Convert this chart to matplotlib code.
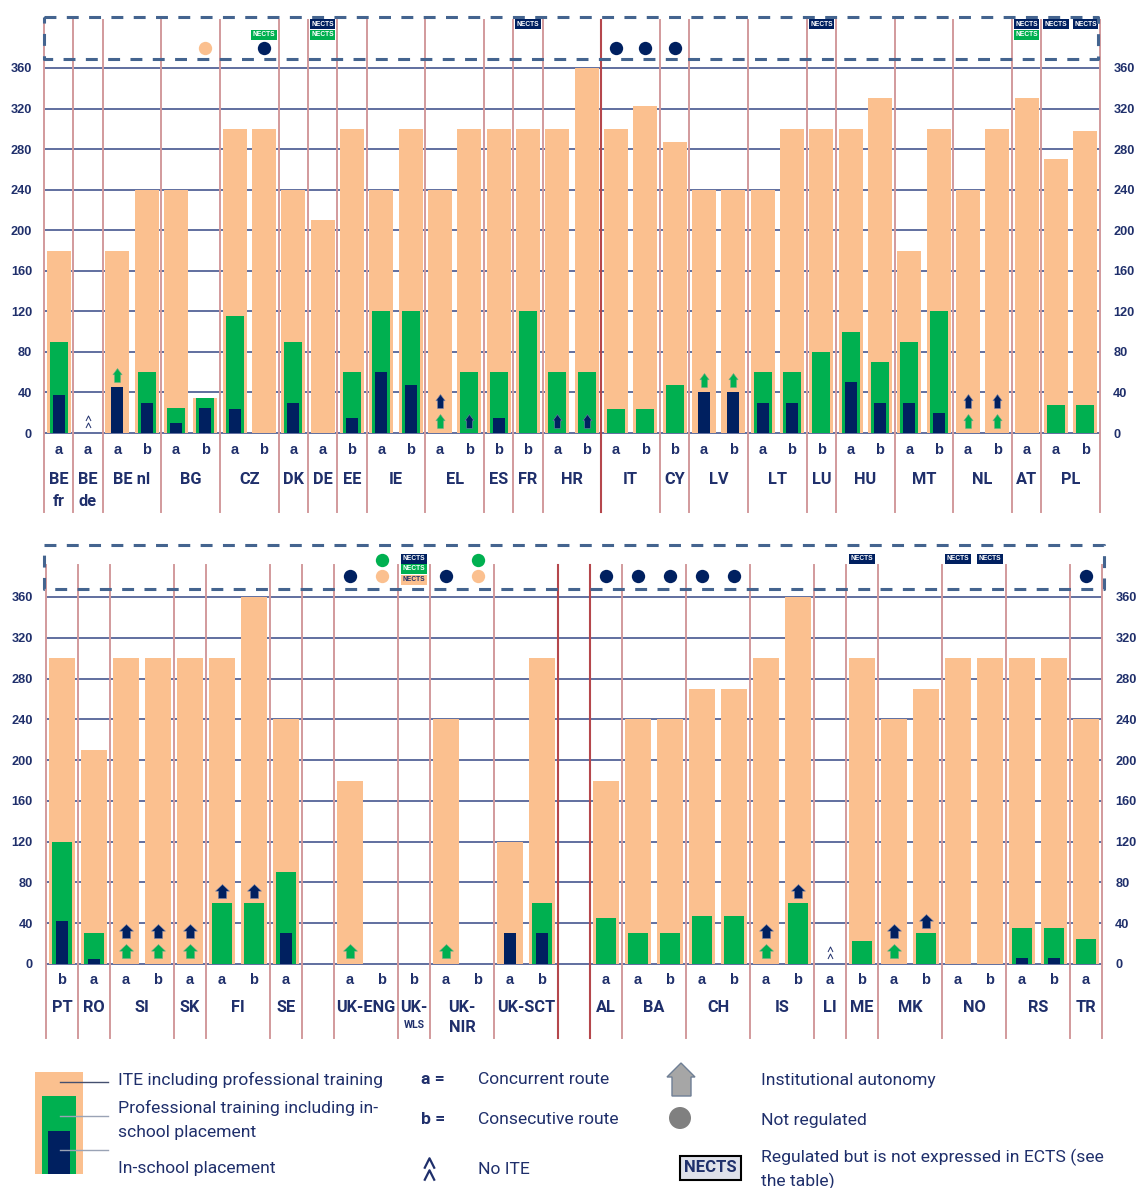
import matplotlib
matplotlib.use('Agg')
import matplotlib.pyplot as plt
from matplotlib.path import Path
from matplotlib.patches import Rectangle, Polygon, Ellipse

W, H = 1137, 1188
plt.rcParams['font.family'] = ['Roboto', 'Liberation Sans', 'DejaVu Sans']

ORANGE = '#fbc08f'; GREEN = '#00b050'; NAVY = '#002060'
TEXT = '#1f2f6b'; GRID = '#46568f'; SEP = '#d29a9c'; SEP_DARK = '#b5474c'; DASH = '#44648f'

# ---------- top panel data ----------
top_groups = [('BE\nfr', 1), ('BE\nde', 1), ('BE nl', 2), ('BG', 2), ('CZ', 2), ('DK', 1), ('DE', 1), ('EE', 1),
              ('IE', 2), ('EL', 2), ('ES', 1), ('FR', 1), ('HR', 2), ('IT', 2), ('CY', 1), ('LV', 2), ('LT', 2),
              ('LU', 1), ('HU', 2), ('MT', 2), ('NL', 2), ('AT', 1), ('PL', 2)]
top_routes = ['a', 'a', 'a', 'b', 'a', 'b', 'a', 'b', 'a', 'a', 'b', 'a', 'b', 'a', 'b', 'b', 'b', 'a',
              'b', 'a', 'b', 'b', 'a', 'b', 'a', 'b', 'b', 'a', 'b', 'a', 'b', 'a', 'b', 'a', 'a', 'b']
top_total = [180, 0, 180, 240, 240, 35, 300, 300, 240, 210, 300, 240, 300, 240, 300, 300, 300, 300,
             360, 300, 323, 287, 240, 240, 240, 300, 300, 300, 330, 180, 300, 240, 300, 330, 270, 298]
top_green = [90, 0, 0, 60, 25, 35, 115, 0, 90, 0, 60, 120, 120, 0, 60, 60, 120, 60,
             60, 24, 24, 47, 0, 0, 60, 60, 80, 100, 70, 90, 120, 0, 0, 0, 28, 28]
top_navy = [37, 0, 45, 30, 10, 25, 24, 0, 30, 0, 15, 60, 47, 0, 0, 15, 0, 0,
            0, 0, 0, 0, 40, 40, 30, 30, 0, 50, 30, 30, 20, 0, 0, 0, 0, 0]
top_arrow_navy = [0, 0, 0, 0, 0, 0, 0, 0, 0, 0, 0, 0, 0, 32, 12, 0, 0, 12,
                  12, 0, 0, 0, 0, 0, 0, 0, 0, 0, 0, 0, 0, 32, 32, 0, 0, 0]
top_arrow_green = [0, 0, 57, 0, 0, 0, 0, 0, 0, 0, 0, 0, 0, 12, 0, 0, 0, 0,
                   0, 0, 0, 0, 52, 52, 0, 0, 0, 0, 0, 0, 0, 12, 12, 0, 0, 0]
top_no_ite = [1]
top_strip = ['', '', '', '', '', 'o', '', 'Gn', '', 'NG', '', '', '', '', '', '', 'N', '',
             '', 'n', 'n', 'n', '', '', '', '', 'N', '', '', '', '', '', '', 'NG', 'N', 'N']

# ---------- bottom panel data ----------
bot_groups = [('PT', 1), ('RO', 1), ('SI', 2), ('SK', 1), ('FI', 2), ('SE', 1), ('', 1), ('UK-ENG', 2),
              ('UK-\nWLS', 1), ('UK-\nNIR', 2), ('UK-SCT', 2), ('', 1), ('AL', 1), ('BA', 2), ('CH', 2),
              ('IS', 2), ('LI', 1), ('ME', 1), ('MK', 2), ('NO', 2), ('RS', 2), ('TR', 1)]
bot_routes = ['b', 'a', 'a', 'b', 'a', 'a', 'b', 'a', '', 'a', 'b', 'b', 'a', 'b', 'a', 'b', '',
              'a', 'a', 'b', 'a', 'b', 'a', 'b', 'a', 'b', 'a', 'b', 'a', 'b', 'a', 'b', 'a']
bot_total = [300, 210, 300, 300, 300, 300, 360, 240, 0, 180, 0, 0, 240, 0, 120, 300, 0,
             180, 240, 240, 270, 270, 300, 360, 0, 300, 240, 270, 300, 300, 300, 300, 240]
bot_green = [120, 30, 0, 0, 0, 60, 60, 90, 0, 0, 0, 0, 0, 0, 0, 60, 0,
             45, 30, 30, 47, 47, 0, 60, 0, 23, 0, 30, 0, 0, 35, 35, 25]
bot_navy = [42, 5, 0, 0, 0, 0, 0, 30, 0, 0, 0, 0, 0, 0, 30, 30, 0,
            0, 0, 0, 0, 0, 0, 0, 0, 0, 0, 0, 0, 0, 6, 6, 0]
bot_arrow_navy = [0, 0, 32, 32, 32, 72, 72, 0, 0, 0, 0, 0, 0, 0, 0, 0, 0,
                  0, 0, 0, 0, 0, 32, 72, 0, 0, 32, 42, 0, 0, 0, 0, 0]
bot_arrow_green = [0, 0, 13, 13, 13, 0, 0, 0, 0, 13, 0, 0, 13, 0, 0, 0, 0,
                   0, 0, 0, 0, 0, 13, 0, 0, 0, 13, 0, 0, 0, 0, 0, 0]
bot_no_ite = [24]
bot_strip = ['', '', '', '', '', '', '', '', '', 'n', 'go', 'NGO', 'n', 'go', '', '', '',
             'n', 'n', 'n', 'n', 'n', '', '', '', 'N', '', '', 'N', 'N', '', '', 'n']

fig = plt.figure(figsize=(W / 100, H / 100), dpi=100)

HOUSE = Path([(-0.58, -1), (0.58, -1), (0.58, 0.05), (1, 0.05), (0, 1), (-1, 0.05), (-0.58, 0.05), (-0.58, -1)], closed=True)
HOUSE_N = Path([(-0.42, -1), (0.42, -1), (0.42, 0.1), (0.66, 0.1), (0, 1), (-0.66, 0.1), (-0.42, 0.1), (-0.42, -1)], closed=True)
CHEV = Path([(-1, -1), (0, 1), (1, -1)])
NAME_FS = 11.8
SUB = dict(fontfamily='Liberation Sans', fontweight='bold', fontsize=9.2, color=TEXT)


def panel(L, R, T, B, y0, y360, groups, routes, total, green, navy, a_navy, a_green, no_ite, strip, strip_y,
          route_y, name_y, name2_y, sep_top, sep_bot, dark, house, house_size, padl, padr):
    ax = fig.add_axes([L / W, 1 - B / H, (R - L) / W, (B - T) / H])
    k = (y0 - y360) / 360
    py = lambda p: (y0 - p) / k
    n = len(total)
    ax.set_xlim(0, n)
    ax.set_ylim(py(B), py(T))
    for s in ax.spines.values():
        s.set_visible(False)
    ax.set_facecolor('none')
    ticks = list(range(0, 361, 40))
    ax.set_yticks(ticks)
    ax.set_xticks([])
    ax.tick_params(axis='y', length=0, labelleft=True, labelright=False, pad=padl)
    for t in ax.get_yticklabels():
        t.set(**SUB)
    for v in ticks:
        ax.plot([0, n], [v, v], color=GRID, lw=1.2, zorder=1, solid_capstyle='butt')
        ax.annotate(str(v), xy=(1, v), xycoords=ax.get_yaxis_transform(), xytext=(padr, 0), textcoords='offset points',
                    ha='left', va='center_baseline', **SUB)
    xs = [i + 0.5 for i in range(n)]
    ax.bar(xs, total, width=0.82, color=ORANGE, zorder=2)
    ax.bar(xs, green, width=0.62, color=GREEN, zorder=3)
    ax.bar(xs, navy, width=0.40, color=NAVY, zorder=4)
    name_kw = dict(ha='center', va='center', fontsize=NAME_FS, fontweight='bold', color=TEXT)
    pos = 0
    bounds = [0]
    for name, cnt in groups:
        cx = pos + cnt / 2
        if name == 'UK-\nWLS':
            ax.text(cx, py(name_y), 'UK-', **name_kw)
            ax.text(cx, py(name2_y - 3), 'WLS', ha='center', va='center', fontsize=7.5, fontweight='bold', color=TEXT)
        elif '\n' in name:
            a, b = name.split('\n')
            ax.text(cx, py(name_y), a, **name_kw)
            ax.text(cx, py(name2_y), b, **name_kw)
        elif name:
            ax.text(cx, py(name_y), name, **name_kw)
        pos += cnt
        bounds.append(pos)
    for b in bounds:
        c, lw = (SEP_DARK, 1.5) if b in dark else (SEP, 1.4)
        ax.plot([b, b], [py(sep_bot), py(sep_top)], color=c, lw=lw, zorder=1.5, clip_on=False)
    for x, r in zip(xs, routes):
        ax.text(x, py(route_y), r, ha='center', va='center', fontsize=10.5, fontweight='bold', color=TEXT,
                fontfamily='Liberation Sans')
    for x, v in zip(xs, a_navy):
        if v:
            ax.plot([x], [v], marker=house, ms=house_size, mfc=NAVY, mec='#6f7fa8', mew=0.4, ls='', zorder=5)
    for x, v in zip(xs, a_green):
        if v:
            ax.plot([x], [v], marker=house, ms=house_size, mfc=GREEN, mec='#5fae85', mew=0.4, ls='', zorder=5)
    for i in no_ite:
        ax.plot([xs[i]], [15], marker=CHEV, ms=3.6, mfc='none', mec=TEXT, mew=0.7, ls='', zorder=5)
        ax.plot([xs[i]], [8], marker=CHEV, ms=3.6, mfc='none', mec=TEXT, mew=0.7, ls='', zorder=5)
    badge = {'N': (NAVY, 'white'), 'G': (GREEN, 'white'), 'O': (ORANGE, TEXT)}
    circ = {'n': NAVY, 'g': GREEN, 'o': ORANGE}
    for x, code in zip(xs, strip):
        for c in code:
            if c in badge:
                bg, fg = badge[c]
                ax.text(x, py(strip_y[c]), 'NECTS', ha='center', va='center', fontsize=4.8, fontweight='bold',
                        color=fg, fontfamily='Liberation Sans', zorder=7, clip_on=False,
                        bbox=dict(boxstyle='square,pad=0.18', fc=bg, ec='none'))
            else:
                ax.plot([x], [py(strip_y[c])], 'o', ms=9.6, mfc=circ[c], mec='none', zorder=7, clip_on=False)
    return ax


panel(44, 1100, 10, 516, 433, 68, top_groups, top_routes, top_total, top_green, top_navy,
      top_arrow_navy, top_arrow_green, top_no_ite, top_strip,
      {'N': 24, 'G': 35, 'n': 48, 'o': 48}, 450, 479, 501, 20, 512, [19], HOUSE_N, 10, 8.6, 9.5)
panel(46, 1102, 540, 1042, 964, 597, bot_groups, bot_routes, bot_total, bot_green, bot_navy,
      bot_arrow_navy, bot_arrow_green, bot_no_ite, bot_strip,
      {'N': 559, 'G': 569, 'O': 580, 'g': 560, 'n': 576, 'o': 576}, 980, 1007, 1028, 565, 1038, [16, 17], HOUSE, 10, 9.5, 9.5)

# ---------- overlay in pixel coordinates ----------
ov = fig.add_axes([0, 0, 1, 1], zorder=10)
ov.set_xlim(0, W); ov.set_ylim(H, 0); ov.axis('off'); ov.patch.set_alpha(0)
DASHES = (3.9, 3.4)
ov.plot([44, 1098, 1098, 44, 44], [17, 17, 59, 59, 17], color=DASH, lw=2.2, dashes=DASHES)
ov.plot([44, 1104, 1104, 44, 44], [545, 545, 589, 589, 545], color=DASH, lw=2.2, dashes=DASHES)

ov.add_patch(Rectangle((35, 1072), 48, 102, fc=ORANGE, ec='none'))
ov.add_patch(Rectangle((42, 1096), 34, 78, fc=GREEN, ec='none'))
ov.add_patch(Rectangle((48, 1131), 22, 43, fc=NAVY, ec='none'))
ov.plot([60, 108], [1082, 1082], color='#44506f', lw=1)
ov.plot([60, 108], [1116, 1116], color='#9aa3b5', lw=1)
ov.plot([60, 108], [1150, 1150], color='#9aa3b5', lw=1)

FS = 12.6
def lt(x, y, s, **kw):
    kw.setdefault('fontsize', FS)
    ov.text(x, y + 1, s, ha='left', va='center', color=TEXT, **kw)

lt(118, 1079, 'ITE including professional training')
lt(118, 1107, 'Professional training including in-')
lt(118, 1131, 'school placement')
lt(118, 1168, 'In-school placement')
lt(421, 1079, 'a =', fontweight='bold')
lt(421, 1119, 'b =', fontweight='bold')
lt(478, 1079, 'Concurrent route')
lt(478, 1119, 'Consecutive route')
lt(478, 1168, 'No ITE')
lt(761, 1079, 'Institutional autonomy')
lt(761, 1119, 'Not regulated')
lt(761, 1156, 'Regulated but is not expressed in ECTS (see')
lt(761, 1180, 'the table)')
ov.plot([429], [1163], marker=CHEV, ms=7.5, mfc='none', mec=TEXT, mew=1.6, ls='')
ov.plot([429], [1175], marker=CHEV, ms=7.5, mfc='none', mec=TEXT, mew=1.6, ls='')
ov.add_patch(Polygon([(672, 1096), (691, 1096), (691, 1077), (695, 1077), (681, 1063), (667, 1077), (672, 1077)],
                     fc='#a6a6a6', ec='#6f7f95', lw=1))
ov.add_patch(Ellipse((680, 1118), 22, 22, fc='#808080', ec='none'))
ov.text(710.5, 1168, 'NECTS', ha='center', va='center', fontsize=12, fontweight='bold', color=TEXT,
        bbox=dict(boxstyle='square,pad=0.28', fc='#dfe1ea', ec='black', lw=1.5))

fig.savefig('out.png', dpi=100, facecolor='white')
